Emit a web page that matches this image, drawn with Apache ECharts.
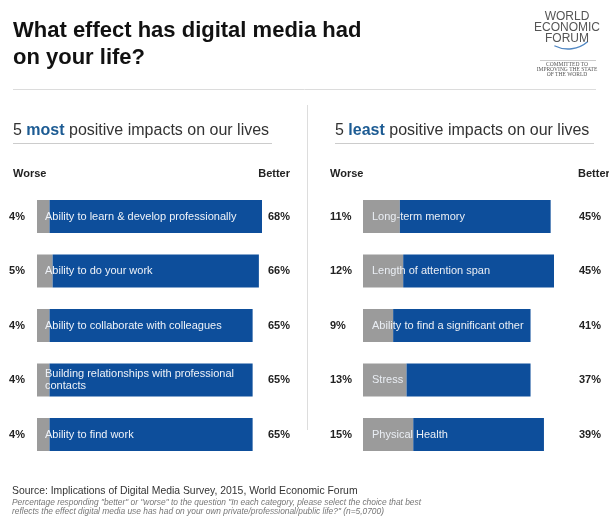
<!DOCTYPE html>
<html>
<head>
<meta charset="utf-8">
<script src="https://cdn.jsdelivr.net/npm/echarts@6/dist/echarts.min.js"></script>
<style>
html, body { margin: 0; padding: 0; background: #fff; }
#chart { width: 609px; height: 518px; }
</style>
</head>
<body>
<div id="chart"></div>
<script>
// most positive
const leftCats = [
    'Ability to learn & develop professionally',
    'Ability to do your work',
    'Ability to collaborate with colleagues',
    'Building relationships with professional\ncontacts',
    'Ability to find work'
]
const leftWorse = [4, 5, 4, 4, 4]
const leftBetter = [68, 66, 65, 65, 65]

// least positive
const rightCats = [
    'Long-term memory',
    'Length of attention span',
    'Ability to find a significant other',
    'Stress',
    'Physical Health'
]
const rightWorse = [11, 12, 9, 13, 15]
const rightBetter = [45, 45, 41, 37, 39]

const FONT = "'Liberation Sans', Arial, sans-serif"
const BLUE = '#0d4e9b'
const GREY = '#9b9b9b'

let myChart = echarts.init(document.getElementById('chart'))

function text(x, y, str, size, opts) {
    opts = opts || {}
    return {
        type: 'text',
        z: 100,
        style: {
            x: x,
            y: y,
            text: str,
            font: (opts.style || '') + ' ' + (opts.weight || 'normal') + ' ' + size + 'px ' + (opts.family || FONT),
            fill: opts.color || '#222',
            textAlign: opts.align || 'left',
            textVerticalAlign: 'middle',
            rich: opts.rich
        }
    }
}

function line(x1, y1, x2, y2, color, w) {
    return {
        type: 'line',
        shape: { x1: x1, y1: y1, x2: x2, y2: y2 },
        style: { stroke: color, lineWidth: w || 1 }
    }
}

const subRich = {
    b: { font: 'bold 16px ' + FONT, fill: '#1c5b93' }
}

const serif = "'Liberation Serif', 'DejaVu Serif', serif"

let graphics = [
    text(13, 31, 'What effect has digital media had', 22, { weight: 'bold', color: '#111' }),
    text(13, 58, 'on your life?', 22, { weight: 'bold', color: '#111' }),
    line(13, 89.5, 596, 89.5, '#dcdcdc', 1),
    // logo
    text(567, 17, 'WORLD', 12, { align: 'center', color: '#555' }),
    text(567, 28, 'ECONOMIC', 12, { align: 'center', color: '#555' }),
    text(567, 39, 'FORUM', 12, { align: 'center', color: '#555' }),
    {
        type: 'arc',
        shape: { cx: 568, cy: 19, r: 30, startAngle: Math.PI * 0.27, endAngle: Math.PI * 0.65 },
        style: { stroke: '#4f86c2', lineWidth: 1.3, fill: null }
    },
    line(540, 60.5, 596, 60.5, '#aaaaaa', 0.6),
    text(567, 65, 'COMMITTED TO', 5.5, { align: 'center', color: '#555', family: serif }),
    text(567, 70, 'IMPROVING THE STATE', 5.5, { align: 'center', color: '#555', family: serif }),
    text(567, 75, 'OF THE WORLD', 5.5, { align: 'center', color: '#555', family: serif }),
    // panel headers
    text(13, 131, '5 {b|most} positive impacts on our lives', 16, { color: '#333', rich: subRich }),
    line(13, 143.5, 272, 143.5, '#cccccc', 1),
    text(335, 131, '5 {b|least} positive impacts on our lives', 16, { color: '#333', rich: subRich }),
    line(335, 143.5, 594, 143.5, '#cccccc', 1),
    line(307.5, 105, 307.5, 430, '#dddddd', 1),
    text(13, 174, 'Worse', 11, { weight: 'bold' }),
    text(290, 174, 'Better', 11, { weight: 'bold', align: 'right' }),
    text(330, 174, 'Worse', 11, { weight: 'bold' }),
    text(578, 174, 'Better', 11, { weight: 'bold' }),
    // footer
    text(12, 491, 'Source: Implications of Digital Media Survey, 2015, World Economic Forum', 10.4, { color: '#333' }),
    text(12, 503, 'Percentage responding "better" or "worse" to the question "In each category, please select the choice that best', 8.4, { style: 'italic', color: '#777' }),
    text(12, 512, 'reflects the effect digital media use has had on your own private/professional/public life?" (n=5,0700)', 8.4, { style: 'italic', color: '#777' })
]

function pctLabel(pos, align, getText) {
    return {
        show: true,
        position: pos,
        align: align,
        verticalAlign: 'middle',
        fontFamily: FONT,
        fontSize: 11,
        fontWeight: 'bold',
        color: '#222',
        formatter: getText
    }
}

// zero-width bars on their own stack, only used to hang the "Better" labels
// at a fixed column next to the bars
function labelSeries(stack, axis, values, pos) {
    return {
        type: 'bar', stack: stack, xAxisIndex: axis, yAxisIndex: axis,
        data: values.map(() => 0), barWidth: 33, barGap: '-100%', silent: true,
        itemStyle: { color: 'transparent' },
        label: pctLabel(pos, 'right', p => values[p.dataIndex] + '%')
    }
}

let option = {
    animation: false,
    graphic: graphics,
    grid: [
        { left: 37, top: 189.25, width: 225, height: 272.5 },
        { left: 363, top: 189.25, width: 191, height: 272.5 }
    ],
    xAxis: [
        { gridIndex: 0, type: 'value', min: 0, max: 72, show: false },
        { gridIndex: 1, type: 'value', min: 0, max: 57, show: false }
    ],
    yAxis: [
        {
            gridIndex: 0, type: 'category', inverse: true, data: leftCats, z: 10,
            axisLine: { show: false }, axisTick: { show: false }, splitLine: { show: false },
            axisLabel: { inside: true, margin: 8, interval: 0, color: '#eef2f8', fontFamily: FONT, fontSize: 11, lineHeight: 12 }
        },
        {
            gridIndex: 1, type: 'category', inverse: true, data: rightCats, z: 10,
            axisLine: { show: false }, axisTick: { show: false }, splitLine: { show: false },
            axisLabel: { inside: true, margin: 9, interval: 0, color: '#eaeef4', fontFamily: FONT, fontSize: 11, lineHeight: 12 }
        }
    ],
    series: [
        {
            name: 'Worse', type: 'bar', stack: 'l', xAxisIndex: 0, yAxisIndex: 0,
            data: leftWorse, barWidth: 33, barGap: '-100%', itemStyle: { color: GREY },
            label: pctLabel([-12, '50%'], 'right', p => p.value + '%')
        },
        {
            name: 'Better', type: 'bar', stack: 'l', xAxisIndex: 0, yAxisIndex: 0,
            data: leftBetter, barWidth: 33, barGap: '-100%', itemStyle: { color: BLUE }
        },
        labelSeries('l2', 0, leftBetter, [253, '50%']),
        {
            name: 'Worse', type: 'bar', stack: 'r', xAxisIndex: 1, yAxisIndex: 1,
            data: rightWorse, barWidth: 33, barGap: '-100%', itemStyle: { color: GREY },
            label: pctLabel([-33, '50%'], 'left', p => p.value + '%')
        },
        {
            name: 'Better', type: 'bar', stack: 'r', xAxisIndex: 1, yAxisIndex: 1,
            data: rightBetter, barWidth: 33, barGap: '-100%', itemStyle: { color: BLUE }
        },
        labelSeries('r2', 1, rightBetter, [238, '50%'])
    ]
}

myChart.setOption(option)
</script>
</body>
</html>
